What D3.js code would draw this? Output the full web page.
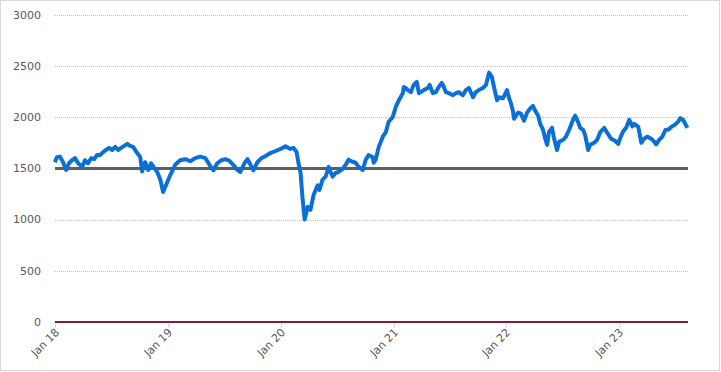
<!DOCTYPE html>
<meta charset="utf-8">
<style>

    body {
        margin: 0;
        background: #fff;
    }

    .tick-label {
        font: 11px "DejaVu Sans", sans-serif;
        fill: #595959;
    }

    .grid line {
        stroke: #bfbfbf;
        stroke-dasharray: 1, 1;
    }

</style>
<svg width="721" height="372"></svg>
<script src="https://d3js.org/d3.v7.min.js"></script>
<script>
    var dates = [
        "2018-01-01", "2018-01-07", "2018-01-17", "2018-01-27", "2018-02-06", "2018-02-15", "2018-02-25", "2018-03-07",
        "2018-03-17", "2018-03-30", "2018-04-08", "2018-04-18", "2018-04-28", "2018-05-08", "2018-05-17", "2018-05-27",
        "2018-06-06", "2018-06-15", "2018-06-25", "2018-07-05", "2018-07-15", "2018-07-24", "2018-08-03", "2018-08-13",
        "2018-08-23", "2018-09-01", "2018-09-11", "2018-09-24", "2018-10-04", "2018-10-10", "2018-10-20", "2018-10-30",
        "2018-11-08", "2018-11-18", "2018-11-28", "2018-12-08", "2018-12-17", "2018-12-27", "2019-01-09", "2019-01-25",
        "2019-02-10", "2019-02-27", "2019-03-15", "2019-03-31", "2019-04-16", "2019-05-03", "2019-05-16", "2019-05-29",
        "2019-06-10", "2019-06-24", "2019-07-06", "2019-07-19", "2019-08-01", "2019-08-14", "2019-08-24", "2019-09-06",
        "2019-09-16", "2019-09-26", "2019-10-05", "2019-10-18", "2019-10-31", "2019-11-13", "2019-11-29", "2019-12-16",
        "2020-01-01", "2020-01-17", "2020-02-02", "2020-02-12", "2020-02-22", "2020-02-28", "2020-03-06", "2020-03-12",
        "2020-03-19", "2020-03-29", "2020-04-07", "2020-04-17", "2020-04-30", "2020-05-06", "2020-05-16", "2020-05-26",
        "2020-06-05", "2020-06-11", "2020-06-18", "2020-06-27", "2020-07-07", "2020-07-20", "2020-07-30", "2020-08-08",
        "2020-08-21", "2020-08-31", "2020-09-10", "2020-09-23", "2020-10-03", "2020-10-12", "2020-10-25", "2020-10-29",
        "2020-11-04", "2020-11-14", "2020-11-27", "2020-12-07", "2020-12-16", "2020-12-29", "2021-01-08", "2021-01-18",
        "2021-01-31", "2021-02-03", "2021-02-09", "2021-02-16", "2021-02-26", "2021-03-07", "2021-03-17", "2021-03-24",
        "2021-03-30", "2021-04-09", "2021-04-22", "2021-04-28", "2021-05-08", "2021-05-18", "2021-05-27", "2021-06-06",
        "2021-06-13", "2021-06-19", "2021-06-29", "2021-07-12", "2021-07-22", "2021-07-31", "2021-08-13", "2021-08-23",
        "2021-09-02", "2021-09-15", "2021-09-24", "2021-10-04", "2021-10-17", "2021-10-27", "2021-11-06", "2021-11-15",
        "2021-11-22", "2021-12-02", "2021-12-08", "2021-12-21", "2021-12-31", "2022-01-03", "2022-01-10", "2022-01-16",
        "2022-01-22", "2022-01-26", "2022-02-01", "2022-02-08", "2022-02-17", "2022-02-27", "2022-03-09", "2022-03-19",
        "2022-03-28", "2022-04-04", "2022-04-14", "2022-04-20", "2022-04-30", "2022-05-06", "2022-05-13", "2022-05-19",
        "2022-05-29", "2022-06-04", "2022-06-14", "2022-06-21", "2022-07-04", "2022-07-13", "2022-07-23", "2022-08-05",
        "2022-08-12", "2022-08-21", "2022-08-28", "2022-09-07", "2022-09-13", "2022-09-23", "2022-09-29", "2022-10-12",
        "2022-10-22", "2022-11-01", "2022-11-14", "2022-11-23", "2022-12-06", "2022-12-19", "2022-12-29", "2023-01-05",
        "2023-01-14", "2023-01-24", "2023-02-03", "2023-02-13", "2023-02-19", "2023-03-04", "2023-03-14", "2023-03-23",
        "2023-04-02", "2023-04-15", "2023-04-25", "2023-05-01", "2023-05-11", "2023-05-21", "2023-05-31", "2023-06-10",
        "2023-06-19", "2023-07-02", "2023-07-12", "2023-07-18", "2023-07-28", "2023-08-04", "2023-08-10"
    ];

    var values = [
        1560, 1610, 1615, 1560, 1485, 1550, 1580, 1600,
        1550, 1515, 1580, 1550, 1600, 1590, 1630, 1630,
        1660, 1680, 1700, 1680, 1710, 1680, 1700, 1720,
        1740, 1720, 1710, 1650, 1610, 1470, 1560, 1485,
        1550, 1505, 1465, 1390, 1270, 1340, 1435, 1535,
        1580, 1590, 1570, 1600, 1615, 1600, 1535, 1480,
        1550, 1580, 1590, 1575, 1535, 1485, 1465, 1550,
        1590, 1535, 1480, 1560, 1600, 1620, 1650, 1670,
        1690, 1715, 1690, 1700, 1660, 1555, 1455, 1220,
        1000, 1125, 1095, 1240, 1335, 1290, 1390, 1420,
        1515, 1465, 1420, 1455, 1465, 1495, 1535, 1585,
        1565, 1555, 1515, 1485, 1585, 1630, 1610, 1555,
        1585, 1710, 1810, 1855, 1955, 2000, 2100, 2165,
        2235, 2295, 2285, 2265, 2245, 2315, 2345, 2235,
        2245, 2265, 2285, 2315, 2235, 2245, 2295, 2335,
        2295, 2245, 2235, 2215, 2235, 2245, 2215, 2265,
        2285, 2195, 2245, 2265, 2285, 2315, 2435, 2395,
        2295, 2165, 2195, 2185, 2245, 2265, 2185, 2135,
        2065, 1985, 2015, 2045, 2035, 1965, 2045, 2085,
        2110, 2065, 2015, 1940, 1875, 1800, 1730, 1855,
        1895, 1800, 1680, 1760, 1780, 1810, 1875, 1975,
        2015, 1955, 1895, 1875, 1825, 1680, 1730, 1750,
        1780, 1855, 1895, 1850, 1790, 1770, 1740, 1800,
        1860, 1900, 1975, 1910, 1935, 1905, 1750, 1790,
        1810, 1790, 1760, 1735, 1780, 1810, 1875, 1880,
        1905, 1930, 1960, 1990, 1970, 1930, 1895
    ];

    var referenceLevel = 1500;
    var yTicks = [0, 500, 1000, 1500, 2000, 2500, 3000];
    var xTickLabels = ["Jan 18", "Jan 19", "Jan 20", "Jan 21", "Jan 22", "Jan 23"];
    var xTickDates = ["2018-01-01", "2019-01-01", "2020-01-01", "2021-01-01", "2022-01-01", "2023-01-01"];
    var domainEnd = "2023-08-12";

    var svg = d3.select("svg"),
        width = +svg.attr("width"),
        height = +svg.attr("height"),
        margin = {top: 15, right: 33, bottom: 50, left: 55};

    var parse = d3.timeParse("%Y-%m-%d");

    var series = dates.map(function (d, i) {
        return {date: parse(d), value: values[i]};
    });

    var x = d3.scaleTime()
        .domain([parse(xTickDates[0]), parse(domainEnd)])
        .range([margin.left, width - margin.right]);

    var y = d3.scaleLinear()
        .domain([0, 3000])
        .range([322, 14.8]);

    // chart frame
    svg.append("rect")
        .attr("x", 0.5)
        .attr("y", 0.5)
        .attr("width", width - 2)
        .attr("height", height - 2)
        .attr("fill", "none")
        .attr("stroke", "#d9d9d9");

    svg.append("g")
        .attr("class", "grid")
        .selectAll("line")
        .data(yTicks.filter(function (d) { return d > 0; }))
        .enter().append("line")
        .attr("x1", x.range()[0])
        .attr("x2", x.range()[1])
        .attr("y1", function (d) { return Math.round(y(d)) + 0.5; })
        .attr("y2", function (d) { return Math.round(y(d)) + 0.5; });

    svg.append("g")
        .selectAll("text")
        .data(yTicks)
        .enter().append("text")
        .attr("class", "tick-label")
        .attr("x", 41)
        .attr("y", function (d) { return y(d); })
        .attr("dy", "0.35em")
        .attr("text-anchor", "end")
        .text(function (d) { return d; });

    // x ticks and rotated labels
    var xt = svg.append("g")
        .selectAll("g")
        .data(xTickDates)
        .enter().append("g")
        .attr("transform", function (d) {
            return "translate(" + Math.round(x(parse(d))) + ",0)";
        });

    xt.append("line")
        .attr("x1", 0.5)
        .attr("x2", 0.5)
        .attr("y1", 322)
        .attr("y2", 327)
        .attr("stroke", "#bfbfbf")
        .attr("stroke-dasharray", "1,1");

    xt.append("text")
        .attr("class", "tick-label")
        .attr("text-anchor", "end")
        .attr("transform", "translate(5,333) rotate(-45)")
        .text(function (d, i) { return xTickLabels[i]; });

    // reference level
    svg.append("line")
        .attr("x1", x.range()[0])
        .attr("x2", x.range()[1])
        .attr("y1", y(referenceLevel))
        .attr("y2", y(referenceLevel))
        .attr("stroke", "#5f5f5f")
        .attr("stroke-width", 3);

    // zero line
    svg.append("line")
        .attr("x1", x.range()[0])
        .attr("x2", x.range()[1])
        .attr("y1", y(0))
        .attr("y2", y(0))
        .attr("stroke", "#7a1e45")
        .attr("stroke-width", 2);

    var line = d3.line()
        .x(function (d) { return x(d.date); })
        .y(function (d) { return y(d.value); });

    svg.append("path")
        .datum(series)
        .attr("fill", "none")
        .attr("stroke", "#0b70d6")
        .attr("stroke-width", 4)
        .attr("stroke-linejoin", "round")
        .attr("d", line);

</script>
